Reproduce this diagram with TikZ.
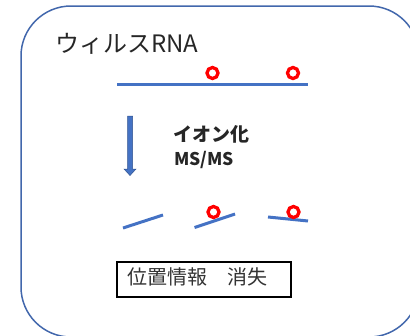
\documentclass[tikz,border=0pt]{standalone}
\usepackage{fontspec}
\newfontfamily\jp{Noto Sans CJK JP}
\definecolor{rnablue}{HTML}{4472C4}
\definecolor{rnadark}{HTML}{2F528F}
\definecolor{frameblue}{HTML}{4267AC}
\definecolor{txt}{HTML}{262626}
\begin{document}
\begin{tikzpicture}[x=1pt,y=-1pt,
  strand/.style={rnablue,line width=3pt},
  mod/.style={draw=red,line width=3.3pt,circle,minimum size=11pt,inner sep=0pt,fill=none},
  lbl/.style={inner sep=0pt,text=txt,font=\jp}]
\useasboundingbox (0,0) rectangle (410,335);
\begin{scope}
\clip (0,0) rectangle (410,335);
\draw[frameblue,line width=1.5pt,rounded corners=50pt] (21,6) rectangle (419,337);
\end{scope}
% title
\node[lbl,anchor=base west,font=\jp\fontsize{24}{28}\selectfont] (title) at (55,52) {ウィルスRNA};
% intact RNA
\coordinate (r1) at (117,84);
\coordinate (r2) at (308,84);
\draw[strand] (r1) -- (r2);
\node[mod] (m1) at (212.5,73) {};
\node[mod] (m2) at (293,73) {};
% arrow (block)
\draw[rnadark,line width=0.5pt,fill=rnablue] (127.5,116) -- (132.5,116) -- (132.5,169) -- (136,169) -- (130,175.5) -- (124,169) -- (127.5,169) -- cycle;
% labels
\node[lbl,anchor=base west,font=\jp\bfseries\fontsize{19}{22}\selectfont] (ion) at (173,141) {イオン化};
\node[lbl,anchor=base west,font=\jp\bfseries\fontsize{17.5}{20}\selectfont] (ms) at (174,165) {MS/MS};
% fragments
\coordinate (f1a) at (123,228);
\coordinate (f1b) at (163,215);
\coordinate (f2a) at (194.5,227.5);
\coordinate (f2b) at (235,214);
\coordinate (f3a) at (268,217);
\coordinate (f3b) at (308,221);
\draw[strand] (f1a) -- (f1b);
\draw[strand] (f2a) -- (f2b);
\draw[strand] (f3a) -- (f3b);
\node[mod] (m3) at (213.5,212) {};
\node[mod] (m4) at (293.5,212) {};
% box
\node[draw=black,line width=1.3pt,minimum width=174pt,minimum height=35pt,inner sep=0pt] (box) at (204,279.5) {};
\node[lbl,anchor=west,font=\jp\fontsize{20}{24}\selectfont,text=black!80] (boxt) at (127,277) {位置情報　消失};
\end{tikzpicture}
\end{document}
